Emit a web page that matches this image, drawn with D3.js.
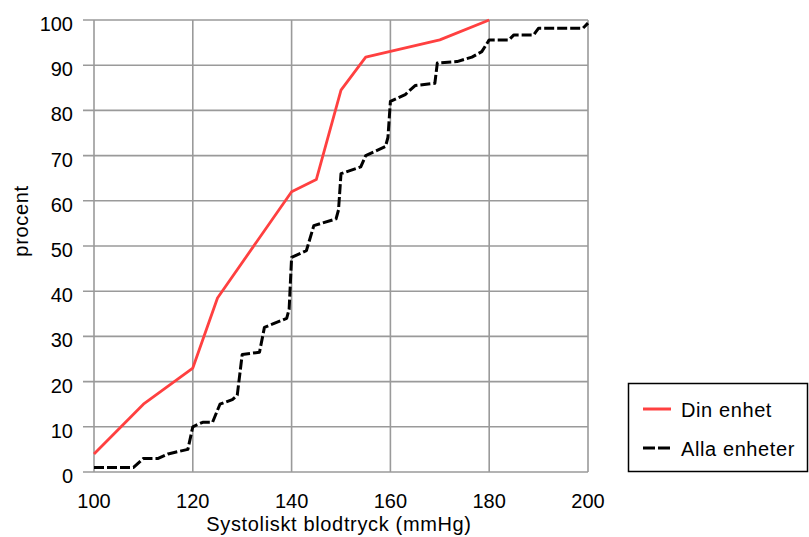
<!DOCTYPE html>
<html><head><meta charset="utf-8">
<script src="https://cdn.jsdelivr.net/npm/d3@7"></script>
<style>html,body{margin:0;padding:0;background:#fff}svg{display:block}text{font-family:"Liberation Sans",Arial,sans-serif;fill:#000}</style>
</head><body><div id="chart"></div>
<script>
// Data
const seriesNames = ["Din enhet", "Alla enheter"];
const dinX = [100, 110, 120, 125, 140, 145, 150, 155, 170, 180];
const dinY = [4, 15, 23, 38.5, 62, 64.7, 84.5, 91.8, 95.6, 100];
const allaX = [100,108,110,113,115,119,120,122,124,125.5,128,129,130,133.5,134.5,139,139.5,140,143,144.5,149,149.5,150,154,155,159,159.5,160,163,165,169,169.5,173.5,176.5,178.5,180,184,185,189,190,199,200];
const allaY = [1,1,3,3,4,5,10,11,11,15,16,17,26,26.5,32,34,36,47.5,49,54.5,56,58,66,67.5,70,72,74,82,83.5,85.5,86,90.5,90.8,91.8,93,95.6,95.6,96.7,96.7,98.2,98.2,99.3];
const xTicks = [100,120,140,160,180,200];
const yTicks = [0,10,20,30,40,50,60,70,80,90,100];
const xTitle = "Systoliskt blodtryck (mmHg)";
const yTitle = "procent";

const W = 809, H = 537;
const m = {left: 94, top: 20, right: 809-588, bottom: 537-472};
const svg = d3.select("#chart").append("svg").attr("width", W).attr("height", H);
const x = d3.scaleLinear().domain([100,200]).range([m.left, W-m.right]);
const y = d3.scaleLinear().domain([0,100]).range([H-m.bottom, m.top]);
const grid = "#9a9a9a";

// grid
svg.append("g").selectAll("line").data(xTicks).join("line")
  .attr("x1", d=>x(d)).attr("x2", d=>x(d)).attr("y1", y(0)).attr("y2", y(100))
  .attr("stroke", grid).attr("stroke-width", 1.6);
svg.append("g").selectAll("line").data(yTicks).join("line")
  .attr("x1", x(100)-11).attr("x2", x(200)).attr("y1", d=>y(d)).attr("y2", d=>y(d))
  .attr("stroke", grid).attr("stroke-width", 1.6);

// axes labels
svg.append("g").selectAll("text").data(yTicks).join("text")
  .attr("x", x(100)-21).attr("y", d=>y(d)+4).attr("dy", "0.35em")
  .attr("text-anchor", "end").attr("font-size", 20).text(d=>d);
svg.append("g").selectAll("text").data(xTicks).join("text")
  .attr("x", d=>x(d)).attr("y", 507.5).attr("text-anchor", "middle").attr("font-size", 20).text(d=>d);
svg.append("text").attr("x", 339).attr("y", 531).attr("text-anchor", "middle").attr("font-size", 20)
  .attr("letter-spacing", 0.65).text(xTitle);
svg.append("text").attr("transform", "translate(28,221) rotate(-90)").attr("text-anchor", "middle").attr("font-size", 20)
  .attr("letter-spacing", 0.65).text(yTitle);

// lines
const line = d3.line().x(d=>x(d[0])).y(d=>y(d[1]));
svg.append("path").datum(allaX.map((v,i)=>[v, allaY[i]]))
  .attr("d", line).attr("fill", "none").attr("stroke", "#000").attr("stroke-width", 3)
  .attr("stroke-dasharray", "10,3").attr("stroke-linejoin", "round");
svg.append("path").datum(dinX.map((v,i)=>[v, dinY[i]]))
  .attr("d", line).attr("fill", "none").attr("stroke", "#ff4040").attr("stroke-width", 2.8)
  .attr("stroke-linejoin", "round");

// legend
const lg = svg.append("g");
lg.append("rect").attr("x", 628.5).attr("y", 383.5).attr("width", 179).attr("height", 88)
  .attr("fill", "#fff").attr("stroke", "#000").attr("stroke-width", 1.5);
const legendItems = [{name: seriesNames[0], color: "#ff4040", dash: null, cy: 409},
                     {name: seriesNames[1], color: "#000", dash: "12,3", cy: 448}];
legendItems.forEach(it => {
  lg.append("line").attr("x1", 643).attr("x2", 671).attr("y1", it.cy).attr("y2", it.cy)
    .attr("stroke", it.color).attr("stroke-width", 3).attr("stroke-dasharray", it.dash);
  lg.append("text").attr("x", 681).attr("y", it.cy + 1).attr("dy", "0.35em").attr("font-size", 20)
    .attr("letter-spacing", 0.6).text(it.name);
});
</script></body></html>
